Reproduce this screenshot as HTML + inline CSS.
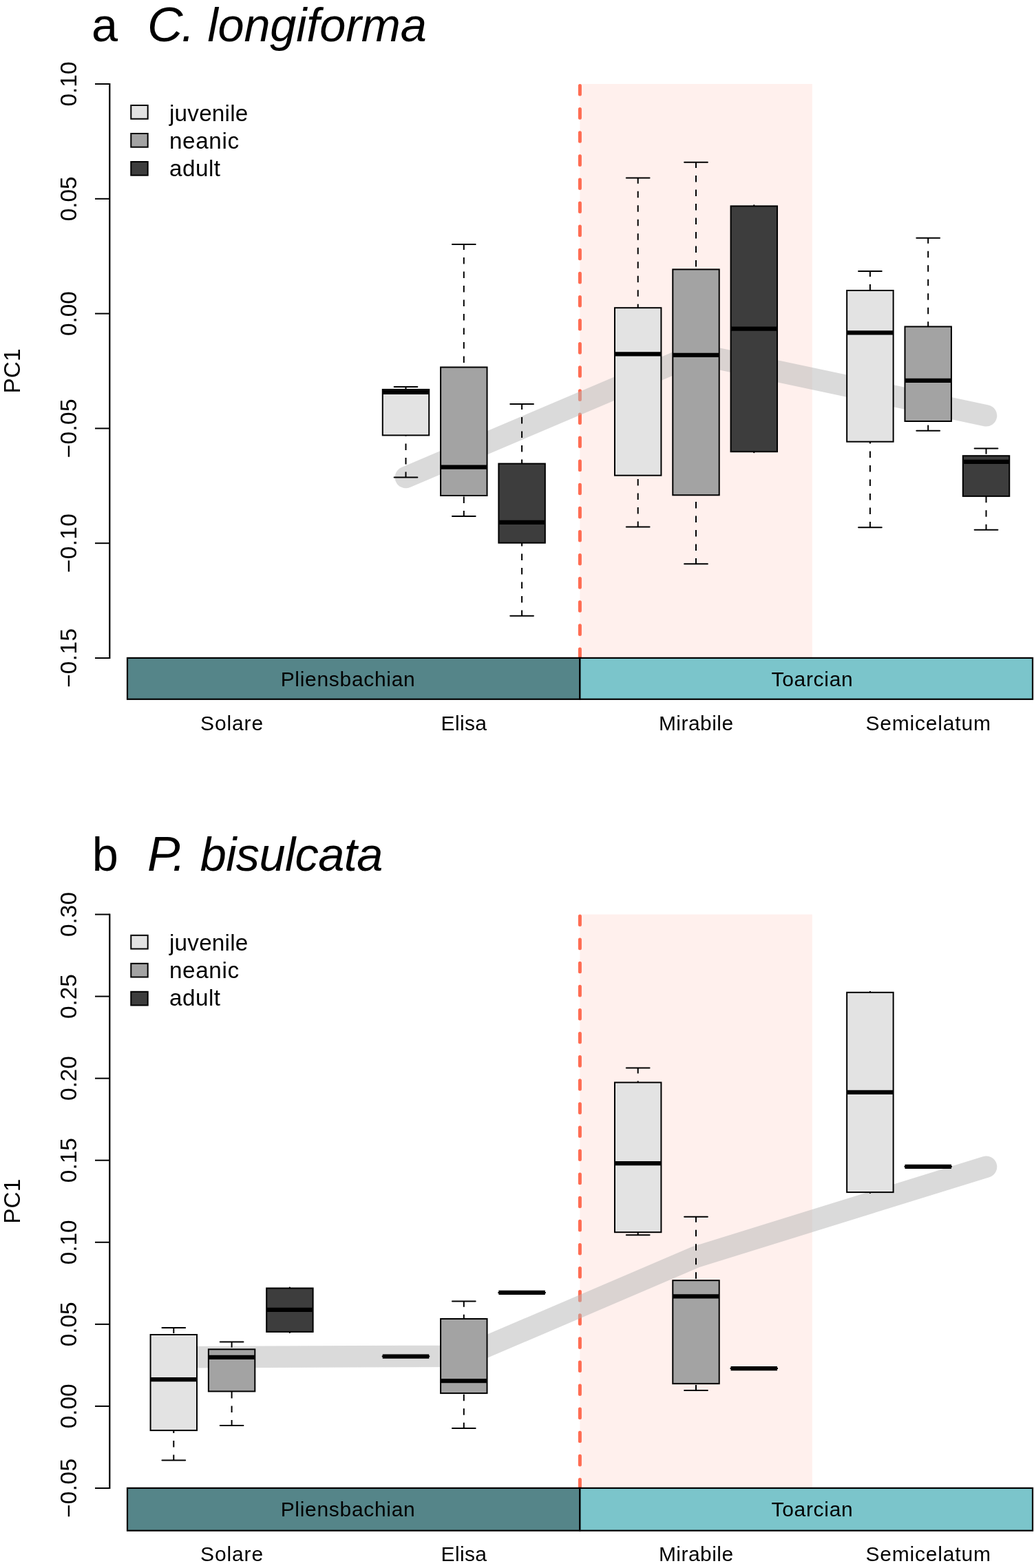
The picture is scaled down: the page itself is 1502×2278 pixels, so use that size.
<!DOCTYPE html>
<html><head><meta charset="utf-8"><title>PC1 boxplots</title>
<style>html,body{margin:0;padding:0;background:#fff;width:1502px;height:2278px;overflow:hidden}svg{display:block}</style>
</head><body>
<svg width="1502" height="2278" viewBox="0 0 1502 2278" font-family='"Liberation Sans", sans-serif'>
<rect width="1502" height="2278" fill="#fff"/>
<rect x="842.4" y="122" width="337.4" height="834" fill="#FFF0ED"/>
<line x1="842.4" y1="124.5" x2="842.4" y2="956" stroke="#FF6C52" stroke-width="5" stroke-linecap="round" stroke-dasharray="12.6 21.5"/>
<polyline points="589.5,693.5 1011,514.2 1432.5,603.8" fill="none" stroke="rgba(181,181,181,0.5)" stroke-width="31.5" stroke-linecap="round" stroke-linejoin="round"/>
<line x1="589.5" y1="562.1" x2="589.5" y2="565.9" stroke="#000" stroke-width="2" stroke-dasharray="9.5 11" stroke-dashoffset="1.4"/>
<line x1="589.5" y1="693.5" x2="589.5" y2="632.4" stroke="#000" stroke-width="2" stroke-dasharray="9.5 11" stroke-dashoffset="1.4"/>
<line x1="572.64" y1="562.1" x2="606.36" y2="562.1" stroke="#000" stroke-width="2" stroke-linecap="round"/>
<line x1="572.64" y1="693.5" x2="606.36" y2="693.5" stroke="#000" stroke-width="2" stroke-linecap="round"/>
<rect x="555.78" y="565.9" width="67.44" height="66.5" fill="#E3E3E3" stroke="#000" stroke-width="2"/>
<line x1="555.78" y1="570" x2="623.22" y2="570" stroke="#000" stroke-width="6.2"/>
<line x1="673.8" y1="355" x2="673.8" y2="533.5" stroke="#000" stroke-width="2" stroke-dasharray="9.5 11" stroke-dashoffset="1.4"/>
<line x1="673.8" y1="750" x2="673.8" y2="720" stroke="#000" stroke-width="2" stroke-dasharray="9.5 11" stroke-dashoffset="1.4"/>
<line x1="656.94" y1="355" x2="690.66" y2="355" stroke="#000" stroke-width="2" stroke-linecap="round"/>
<line x1="656.94" y1="750" x2="690.66" y2="750" stroke="#000" stroke-width="2" stroke-linecap="round"/>
<rect x="640.08" y="533.5" width="67.44" height="186.5" fill="#A3A3A3" stroke="#000" stroke-width="2"/>
<line x1="640.08" y1="678.7" x2="707.52" y2="678.7" stroke="#000" stroke-width="6.2"/>
<line x1="758.1" y1="587" x2="758.1" y2="673.6" stroke="#000" stroke-width="2" stroke-dasharray="9.5 11" stroke-dashoffset="1.4"/>
<line x1="758.1" y1="894.7" x2="758.1" y2="788.7" stroke="#000" stroke-width="2" stroke-dasharray="9.5 11" stroke-dashoffset="1.4"/>
<line x1="741.24" y1="587" x2="774.96" y2="587" stroke="#000" stroke-width="2" stroke-linecap="round"/>
<line x1="741.24" y1="894.7" x2="774.96" y2="894.7" stroke="#000" stroke-width="2" stroke-linecap="round"/>
<rect x="724.38" y="673.6" width="67.44" height="115.1" fill="#3D3D3D" stroke="#000" stroke-width="2"/>
<line x1="724.38" y1="758.9" x2="791.82" y2="758.9" stroke="#000" stroke-width="6.2"/>
<line x1="926.7" y1="258.6" x2="926.7" y2="447.2" stroke="#000" stroke-width="2" stroke-dasharray="9.5 11" stroke-dashoffset="1.4"/>
<line x1="926.7" y1="765.6" x2="926.7" y2="690.7" stroke="#000" stroke-width="2" stroke-dasharray="9.5 11" stroke-dashoffset="1.4"/>
<line x1="909.84" y1="258.6" x2="943.56" y2="258.6" stroke="#000" stroke-width="2" stroke-linecap="round"/>
<line x1="909.84" y1="765.6" x2="943.56" y2="765.6" stroke="#000" stroke-width="2" stroke-linecap="round"/>
<rect x="892.98" y="447.2" width="67.44" height="243.5" fill="#E3E3E3" stroke="#000" stroke-width="2"/>
<line x1="892.98" y1="514.4" x2="960.42" y2="514.4" stroke="#000" stroke-width="6.2"/>
<line x1="1011" y1="235.8" x2="1011" y2="391.4" stroke="#000" stroke-width="2" stroke-dasharray="9.5 11" stroke-dashoffset="1.4"/>
<line x1="1011" y1="819.2" x2="1011" y2="719.3" stroke="#000" stroke-width="2" stroke-dasharray="9.5 11" stroke-dashoffset="1.4"/>
<line x1="994.14" y1="235.8" x2="1027.86" y2="235.8" stroke="#000" stroke-width="2" stroke-linecap="round"/>
<line x1="994.14" y1="819.2" x2="1027.86" y2="819.2" stroke="#000" stroke-width="2" stroke-linecap="round"/>
<rect x="977.28" y="391.4" width="67.44" height="327.9" fill="#A3A3A3" stroke="#000" stroke-width="2"/>
<line x1="977.28" y1="515.8" x2="1044.72" y2="515.8" stroke="#000" stroke-width="6.2"/>
<rect x="1061.58" y="299.4" width="67.44" height="356.8" fill="#3D3D3D" stroke="#000" stroke-width="2"/>
<circle cx="1095.3" cy="298.4" r="1.1"/>
<circle cx="1095.3" cy="657.2" r="1.1"/>
<line x1="1061.58" y1="477.7" x2="1129.02" y2="477.7" stroke="#000" stroke-width="6.2"/>
<line x1="1263.9" y1="394" x2="1263.9" y2="422" stroke="#000" stroke-width="2" stroke-dasharray="9.5 11" stroke-dashoffset="1.4"/>
<line x1="1263.9" y1="766.2" x2="1263.9" y2="641.7" stroke="#000" stroke-width="2" stroke-dasharray="9.5 11" stroke-dashoffset="1.4"/>
<line x1="1247.04" y1="394" x2="1280.76" y2="394" stroke="#000" stroke-width="2" stroke-linecap="round"/>
<line x1="1247.04" y1="766.2" x2="1280.76" y2="766.2" stroke="#000" stroke-width="2" stroke-linecap="round"/>
<rect x="1230.18" y="422" width="67.44" height="219.7" fill="#E3E3E3" stroke="#000" stroke-width="2"/>
<line x1="1230.18" y1="483.3" x2="1297.62" y2="483.3" stroke="#000" stroke-width="6.2"/>
<line x1="1348.2" y1="345.7" x2="1348.2" y2="474.5" stroke="#000" stroke-width="2" stroke-dasharray="9.5 11" stroke-dashoffset="1.4"/>
<line x1="1348.2" y1="625.7" x2="1348.2" y2="612" stroke="#000" stroke-width="2" stroke-dasharray="9.5 11" stroke-dashoffset="1.4"/>
<line x1="1331.34" y1="345.7" x2="1365.06" y2="345.7" stroke="#000" stroke-width="2" stroke-linecap="round"/>
<line x1="1331.34" y1="625.7" x2="1365.06" y2="625.7" stroke="#000" stroke-width="2" stroke-linecap="round"/>
<rect x="1314.48" y="474.5" width="67.44" height="137.5" fill="#A3A3A3" stroke="#000" stroke-width="2"/>
<line x1="1314.48" y1="552.8" x2="1381.92" y2="552.8" stroke="#000" stroke-width="6.2"/>
<line x1="1432.5" y1="651.6" x2="1432.5" y2="662.2" stroke="#000" stroke-width="2" stroke-dasharray="9.5 11" stroke-dashoffset="1.4"/>
<line x1="1432.5" y1="769.8" x2="1432.5" y2="720.9" stroke="#000" stroke-width="2" stroke-dasharray="9.5 11" stroke-dashoffset="1.4"/>
<line x1="1415.64" y1="651.6" x2="1449.36" y2="651.6" stroke="#000" stroke-width="2" stroke-linecap="round"/>
<line x1="1415.64" y1="769.8" x2="1449.36" y2="769.8" stroke="#000" stroke-width="2" stroke-linecap="round"/>
<rect x="1398.78" y="662.2" width="67.44" height="58.7" fill="#3D3D3D" stroke="#000" stroke-width="2"/>
<line x1="1398.78" y1="670.8" x2="1466.22" y2="670.8" stroke="#000" stroke-width="6.2"/>
<line x1="159.3" y1="122" x2="159.3" y2="956" stroke="#000" stroke-width="2.2" stroke-linecap="square"/>
<line x1="138" y1="122" x2="159.3" y2="122" stroke="#000" stroke-width="2"/>
<text transform="translate(111.3 122) rotate(-90)" text-anchor="middle" font-size="33.33">0.10</text>
<line x1="138" y1="288.8" x2="159.3" y2="288.8" stroke="#000" stroke-width="2"/>
<text transform="translate(111.3 288.8) rotate(-90)" text-anchor="middle" font-size="33.33">0.05</text>
<line x1="138" y1="455.6" x2="159.3" y2="455.6" stroke="#000" stroke-width="2"/>
<text transform="translate(111.3 455.6) rotate(-90)" text-anchor="middle" font-size="33.33">0.00</text>
<line x1="138" y1="622.4" x2="159.3" y2="622.4" stroke="#000" stroke-width="2"/>
<text transform="translate(111.3 622.4) rotate(-90)" text-anchor="middle" font-size="33.33" textLength="86.1" lengthAdjust="spacing">−0.05</text>
<line x1="138" y1="789.2" x2="159.3" y2="789.2" stroke="#000" stroke-width="2"/>
<text transform="translate(111.3 789.2) rotate(-90)" text-anchor="middle" font-size="33.33" textLength="86.1" lengthAdjust="spacing">−0.10</text>
<line x1="138" y1="956" x2="159.3" y2="956" stroke="#000" stroke-width="2"/>
<text transform="translate(111.3 956) rotate(-90)" text-anchor="middle" font-size="33.33" textLength="86.1" lengthAdjust="spacing">−0.15</text>
<text transform="translate(29 539) rotate(-90)" text-anchor="middle" font-size="33.33">PC1</text>
<rect x="190.3" y="153" width="24.4" height="19.7" fill="#E3E3E3" stroke="#000" stroke-width="2"/>
<text x="246" y="175.8" font-size="33.33" textLength="114.3" lengthAdjust="spacing">juvenile</text>
<rect x="190.3" y="194" width="24.4" height="19.7" fill="#A3A3A3" stroke="#000" stroke-width="2"/>
<text x="246" y="216.1" font-size="33.33" textLength="101.1" lengthAdjust="spacing">neanic</text>
<rect x="190.3" y="235" width="24.4" height="19.7" fill="#3D3D3D" stroke="#000" stroke-width="2"/>
<text x="246" y="256.4" font-size="33.33" textLength="74" lengthAdjust="spacing">adult</text>
<rect x="185" y="955.9" width="657.4" height="59.9" fill="#558589" stroke="#000" stroke-width="2.2"/>
<rect x="842.4" y="955.9" width="657.6" height="59.9" fill="#7BC5CB" stroke="#000" stroke-width="2.2"/>
<text x="505.2" y="996.6" text-anchor="middle" font-size="30" textLength="195.1" lengthAdjust="spacing">Pliensbachian</text>
<text x="1179.6" y="996.6" text-anchor="middle" font-size="30" textLength="118.3" lengthAdjust="spacing">Toarcian</text>
<text x="336.6" y="1060.8" text-anchor="middle" font-size="30" textLength="91.2" lengthAdjust="spacing">Solare</text>
<text x="673.8" y="1060.8" text-anchor="middle" font-size="30" textLength="66.5" lengthAdjust="spacing">Elisa</text>
<text x="1011" y="1060.8" text-anchor="middle" font-size="30" textLength="108.2" lengthAdjust="spacing">Mirabile</text>
<text x="1348.2" y="1060.8" text-anchor="middle" font-size="30" textLength="181.4" lengthAdjust="spacing">Semicelatum</text>
<text x="133" y="60.4" font-size="68.5">a</text>
<text x="214" y="60.4" font-size="68.5" font-style="italic"><tspan font-size="71.3">C</tspan><tspan dx="-2">.</tspan><tspan dx="0" textLength="337.25" lengthAdjust="spacing"> longiforma</tspan></text>
<rect x="842.4" y="1328.5" width="337.4" height="833.5" fill="#FFF0ED"/>
<line x1="842.4" y1="1331" x2="842.4" y2="2162" stroke="#FF6C52" stroke-width="5" stroke-linecap="round" stroke-dasharray="12.6 21.5"/>
<polyline points="252.3,1971.7 673.8,1970.3 1011,1826 1432.5,1695.2" fill="none" stroke="rgba(181,181,181,0.5)" stroke-width="31.5" stroke-linecap="round" stroke-linejoin="round"/>
<line x1="252.3" y1="1928.9" x2="252.3" y2="1939" stroke="#000" stroke-width="2" stroke-dasharray="9.5 11" stroke-dashoffset="1.4"/>
<line x1="252.3" y1="2121.6" x2="252.3" y2="2078.1" stroke="#000" stroke-width="2" stroke-dasharray="9.5 11" stroke-dashoffset="1.4"/>
<line x1="235.44" y1="1928.9" x2="269.16" y2="1928.9" stroke="#000" stroke-width="2" stroke-linecap="round"/>
<line x1="235.44" y1="2121.6" x2="269.16" y2="2121.6" stroke="#000" stroke-width="2" stroke-linecap="round"/>
<rect x="218.58" y="1939" width="67.44" height="139.1" fill="#E3E3E3" stroke="#000" stroke-width="2"/>
<line x1="218.58" y1="2004.2" x2="286.02" y2="2004.2" stroke="#000" stroke-width="6.2"/>
<line x1="336.6" y1="1949.5" x2="336.6" y2="1960.3" stroke="#000" stroke-width="2" stroke-dasharray="9.5 11" stroke-dashoffset="1.4"/>
<line x1="336.6" y1="2071.1" x2="336.6" y2="2021.4" stroke="#000" stroke-width="2" stroke-dasharray="9.5 11" stroke-dashoffset="1.4"/>
<line x1="319.74" y1="1949.5" x2="353.46" y2="1949.5" stroke="#000" stroke-width="2" stroke-linecap="round"/>
<line x1="319.74" y1="2071.1" x2="353.46" y2="2071.1" stroke="#000" stroke-width="2" stroke-linecap="round"/>
<rect x="302.88" y="1960.3" width="67.44" height="61.1" fill="#A3A3A3" stroke="#000" stroke-width="2"/>
<line x1="302.88" y1="1971.8" x2="370.32" y2="1971.8" stroke="#000" stroke-width="6.2"/>
<rect x="387.18" y="1871.5" width="67.44" height="63.4" fill="#3D3D3D" stroke="#000" stroke-width="2"/>
<circle cx="420.9" cy="1870.5" r="1.1"/>
<circle cx="420.9" cy="1935.9" r="1.1"/>
<line x1="387.18" y1="1902.9" x2="454.62" y2="1902.9" stroke="#000" stroke-width="6.2"/>
<line x1="554.78" y1="1970.6" x2="624.22" y2="1970.6" stroke="#000" stroke-width="2"/>
<line x1="555.78" y1="1970.6" x2="623.22" y2="1970.6" stroke="#000" stroke-width="6.2"/>
<line x1="673.8" y1="1890.6" x2="673.8" y2="1916" stroke="#000" stroke-width="2" stroke-dasharray="9.5 11" stroke-dashoffset="1.4"/>
<line x1="673.8" y1="2074.9" x2="673.8" y2="2024.1" stroke="#000" stroke-width="2" stroke-dasharray="9.5 11" stroke-dashoffset="1.4"/>
<line x1="656.94" y1="1890.6" x2="690.66" y2="1890.6" stroke="#000" stroke-width="2" stroke-linecap="round"/>
<line x1="656.94" y1="2074.9" x2="690.66" y2="2074.9" stroke="#000" stroke-width="2" stroke-linecap="round"/>
<rect x="640.08" y="1916" width="67.44" height="108.1" fill="#A3A3A3" stroke="#000" stroke-width="2"/>
<line x1="640.08" y1="2006.1" x2="707.52" y2="2006.1" stroke="#000" stroke-width="6.2"/>
<line x1="723.38" y1="1877.9" x2="792.82" y2="1877.9" stroke="#000" stroke-width="2"/>
<line x1="724.38" y1="1877.9" x2="791.82" y2="1877.9" stroke="#000" stroke-width="6.2"/>
<line x1="926.7" y1="1551.5" x2="926.7" y2="1572.6" stroke="#000" stroke-width="2" stroke-dasharray="9.5 11" stroke-dashoffset="1.4"/>
<line x1="926.7" y1="1794.2" x2="926.7" y2="1790.2" stroke="#000" stroke-width="2" stroke-dasharray="9.5 11" stroke-dashoffset="1.4"/>
<line x1="909.84" y1="1551.5" x2="943.56" y2="1551.5" stroke="#000" stroke-width="2" stroke-linecap="round"/>
<line x1="909.84" y1="1794.2" x2="943.56" y2="1794.2" stroke="#000" stroke-width="2" stroke-linecap="round"/>
<rect x="892.98" y="1572.6" width="67.44" height="217.6" fill="#E3E3E3" stroke="#000" stroke-width="2"/>
<line x1="892.98" y1="1690.2" x2="960.42" y2="1690.2" stroke="#000" stroke-width="6.2"/>
<line x1="1011" y1="1767.7" x2="1011" y2="1860.2" stroke="#000" stroke-width="2" stroke-dasharray="9.5 11" stroke-dashoffset="1.4"/>
<line x1="1011" y1="2020.1" x2="1011" y2="2010.2" stroke="#000" stroke-width="2" stroke-dasharray="9.5 11" stroke-dashoffset="1.4"/>
<line x1="994.14" y1="1767.7" x2="1027.86" y2="1767.7" stroke="#000" stroke-width="2" stroke-linecap="round"/>
<line x1="994.14" y1="2020.1" x2="1027.86" y2="2020.1" stroke="#000" stroke-width="2" stroke-linecap="round"/>
<rect x="977.28" y="1860.2" width="67.44" height="150" fill="#A3A3A3" stroke="#000" stroke-width="2"/>
<line x1="977.28" y1="1883.4" x2="1044.72" y2="1883.4" stroke="#000" stroke-width="6.2"/>
<line x1="1060.58" y1="1988.1" x2="1130.02" y2="1988.1" stroke="#000" stroke-width="2"/>
<line x1="1061.58" y1="1988.1" x2="1129.02" y2="1988.1" stroke="#000" stroke-width="6.2"/>
<rect x="1230.18" y="1441.8" width="67.44" height="290.3" fill="#E3E3E3" stroke="#000" stroke-width="2"/>
<circle cx="1263.9" cy="1440.8" r="1.1"/>
<circle cx="1263.9" cy="1733.1" r="1.1"/>
<line x1="1230.18" y1="1586.8" x2="1297.62" y2="1586.8" stroke="#000" stroke-width="6.2"/>
<line x1="1313.48" y1="1694.8" x2="1382.92" y2="1694.8" stroke="#000" stroke-width="2"/>
<line x1="1314.48" y1="1694.8" x2="1381.92" y2="1694.8" stroke="#000" stroke-width="6.2"/>
<line x1="159.3" y1="1328.5" x2="159.3" y2="2162" stroke="#000" stroke-width="2.2" stroke-linecap="square"/>
<line x1="138" y1="1328.5" x2="159.3" y2="1328.5" stroke="#000" stroke-width="2"/>
<text transform="translate(111.3 1328.5) rotate(-90)" text-anchor="middle" font-size="33.33">0.30</text>
<line x1="138" y1="1447.57" x2="159.3" y2="1447.57" stroke="#000" stroke-width="2"/>
<text transform="translate(111.3 1447.57) rotate(-90)" text-anchor="middle" font-size="33.33">0.25</text>
<line x1="138" y1="1566.64" x2="159.3" y2="1566.64" stroke="#000" stroke-width="2"/>
<text transform="translate(111.3 1566.64) rotate(-90)" text-anchor="middle" font-size="33.33">0.20</text>
<line x1="138" y1="1685.71" x2="159.3" y2="1685.71" stroke="#000" stroke-width="2"/>
<text transform="translate(111.3 1685.71) rotate(-90)" text-anchor="middle" font-size="33.33">0.15</text>
<line x1="138" y1="1804.79" x2="159.3" y2="1804.79" stroke="#000" stroke-width="2"/>
<text transform="translate(111.3 1804.79) rotate(-90)" text-anchor="middle" font-size="33.33">0.10</text>
<line x1="138" y1="1923.86" x2="159.3" y2="1923.86" stroke="#000" stroke-width="2"/>
<text transform="translate(111.3 1923.86) rotate(-90)" text-anchor="middle" font-size="33.33">0.05</text>
<line x1="138" y1="2042.93" x2="159.3" y2="2042.93" stroke="#000" stroke-width="2"/>
<text transform="translate(111.3 2042.93) rotate(-90)" text-anchor="middle" font-size="33.33">0.00</text>
<line x1="138" y1="2162" x2="159.3" y2="2162" stroke="#000" stroke-width="2"/>
<text transform="translate(111.3 2162) rotate(-90)" text-anchor="middle" font-size="33.33" textLength="86.1" lengthAdjust="spacing">−0.05</text>
<text transform="translate(29 1745.25) rotate(-90)" text-anchor="middle" font-size="33.33">PC1</text>
<rect x="190.3" y="1358.8" width="24.4" height="19.7" fill="#E3E3E3" stroke="#000" stroke-width="2"/>
<text x="246" y="1380.8" font-size="33.33" textLength="114.3" lengthAdjust="spacing">juvenile</text>
<rect x="190.3" y="1399.8" width="24.4" height="19.7" fill="#A3A3A3" stroke="#000" stroke-width="2"/>
<text x="246" y="1421.1" font-size="33.33" textLength="101.1" lengthAdjust="spacing">neanic</text>
<rect x="190.3" y="1440.8" width="24.4" height="19.7" fill="#3D3D3D" stroke="#000" stroke-width="2"/>
<text x="246" y="1461.4" font-size="33.33" textLength="74" lengthAdjust="spacing">adult</text>
<rect x="185" y="2161.9" width="657.4" height="61.8" fill="#558589" stroke="#000" stroke-width="2.2"/>
<rect x="842.4" y="2161.9" width="657.6" height="61.8" fill="#7BC5CB" stroke="#000" stroke-width="2.2"/>
<text x="505.2" y="2203" text-anchor="middle" font-size="30" textLength="195.1" lengthAdjust="spacing">Pliensbachian</text>
<text x="1179.6" y="2203" text-anchor="middle" font-size="30" textLength="118.3" lengthAdjust="spacing">Toarcian</text>
<text x="336.6" y="2267.6" text-anchor="middle" font-size="30" textLength="91.2" lengthAdjust="spacing">Solare</text>
<text x="673.8" y="2267.6" text-anchor="middle" font-size="30" textLength="66.5" lengthAdjust="spacing">Elisa</text>
<text x="1011" y="2267.6" text-anchor="middle" font-size="30" textLength="108.2" lengthAdjust="spacing">Mirabile</text>
<text x="1348.2" y="2267.6" text-anchor="middle" font-size="30" textLength="181.4" lengthAdjust="spacing">Semicelatum</text>
<text x="133.7" y="1265.2" font-size="68.5">b</text>
<text x="214" y="1265.2" font-size="68.5" font-style="italic"><tspan font-size="71.3">P</tspan><tspan dx="-11.3">.</tspan><tspan dx="2.9" textLength="284.1" lengthAdjust="spacing"> bisulcata</tspan></text>
</svg>
</body></html>
